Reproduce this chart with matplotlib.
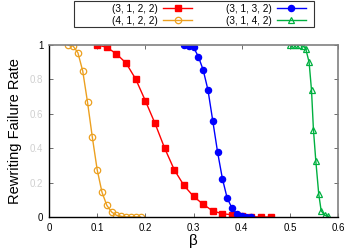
import matplotlib
matplotlib.use("Agg")
import matplotlib.pyplot as plt
from matplotlib.patches import Rectangle

plt.rcParams['font.family'] = ['Liberation Sans', 'DejaVu Sans']

# (3,1,2,2) red squares
x_r = [0.10, 0.12, 0.14, 0.16, 0.18, 0.20, 0.22, 0.24, 0.26, 0.28, 0.30, 0.32, 0.34, 0.36, 0.38, 0.40, 0.42, 0.44, 0.46]
y_r = [1.0, 0.987, 0.948, 0.895, 0.802, 0.676, 0.545, 0.401, 0.275, 0.184, 0.120, 0.074, 0.035, 0.019, 0.013, 0.006, 0.002, 0.0, 0.0]
# (4,1,2,2) orange circles
x_o = [0.04, 0.05, 0.06, 0.07, 0.08, 0.09, 0.10, 0.11, 0.12, 0.13, 0.14, 0.15, 0.16, 0.17, 0.18, 0.19]
y_o = [1.0, 0.994, 0.955, 0.849, 0.667, 0.463, 0.275, 0.144, 0.068, 0.029, 0.010, 0.004, 0.0, 0.0, 0.0, 0.0]
# (3,1,3,2) blue filled circles
x_b = [0.28, 0.29, 0.30, 0.31, 0.32, 0.33, 0.34, 0.35, 0.36, 0.37, 0.38, 0.39, 0.40, 0.41, 0.42]
y_b = [1.0, 0.994, 0.987, 0.933, 0.856, 0.739, 0.559, 0.377, 0.223, 0.109, 0.052, 0.019, 0.008, 0.002, 0.0]
# (3,1,4,2) green triangles
x_g = [0.50, 0.507, 0.513, 0.52, 0.527, 0.533, 0.54, 0.545, 0.549, 0.554, 0.56, 0.565, 0.572, 0.58]
y_g = [1.0, 1.0, 1.0, 1.0, 0.995, 0.978, 0.90, 0.737, 0.508, 0.324, 0.134, 0.037, 0.010, 0.004]

labels = ["(3, 1, 2, 2)", "(4, 1, 2, 2)", "(3, 1, 3, 2)", "(3, 1, 4, 2)"]
xticks = [0, 0.1, 0.2, 0.3, 0.4, 0.5, 0.6]
xticklabels = ["0", "0.1", "0.2", "0.3", "0.4", "0.5", "0.6"]
yticks = [0, 0.2, 0.4, 0.6, 0.8, 1.0]
yticklabels = ["0", "0.2", "0.4", "0.6", "0.8", "1"]

RED = "#ff0000"
ORANGE = "#eca020"
BLUE = "#0000ff"
GREEN = "#00b040"

W, H = 356, 249
fig = plt.figure(figsize=(W/100, H/100), dpi=100)
ax = fig.add_axes([49/W, 1 - 217/H, (338-49)/W, (217-45)/H])

lw = 1.0
h1, = ax.plot(x_r, y_r, color=RED, marker="s", ms=4.0, lw=lw, label=labels[0])
h2, = ax.plot(x_o, y_o, color=ORANGE, marker="o", mfc="none", ms=4.6, mew=0.9, lw=lw, label=labels[1])
h3, = ax.plot(x_b, y_b, color=BLUE, marker="o", ms=4.4, lw=lw, label=labels[2])
h4, = ax.plot(x_g, y_g, color=GREEN, marker="^", mfc="none", ms=4.6, mew=0.9, lw=lw, label=labels[3])

ax.set_xlim(0, 0.6)
ax.set_ylim(0, 1)
ax.set_xticks(xticks)
ax.set_xticklabels(xticklabels)
ax.set_yticks(yticks)
ax.set_yticklabels(yticklabels)
ax.tick_params(direction="in", top=True, right=True, length=3, width=0.6,
               color="#555555", labelsize=7, pad=4)
for i, t in enumerate(ax.get_yticklabels()):
    if 0 < i < len(yticks) - 1:
        t.set_color("#d0d0d0")
for s in ["top", "right"]:
    ax.spines[s].set_color("#808080")
    ax.spines[s].set_linewidth(1.2)
for s in ["left", "bottom"]:
    ax.spines[s].set_color("black")
    ax.spines[s].set_linewidth(1.0)

ax.set_xlabel("β", fontsize=11, labelpad=1)
ax.set_ylabel("Rewriting Failure Rate", fontsize=10.5, labelpad=6)

# legend box
fig.patches.append(Rectangle((74/W, 1 - 27/H), (314-74)/W, 26/H,
                             transform=fig.transFigure, fill=False,
                             edgecolor="#333333", lw=0.8))
leg = fig.legend([h1, h2, h3, h4], labels, ncol=2, loc="upper center",
                 bbox_to_anchor=(209/W, 1 - 1/H), fontsize=7.2,
                 markerfirst=False, frameon=False,
                 handlelength=2.9, columnspacing=3.4,
                 borderpad=0.25, labelspacing=0.2, handletextpad=0.5,
                 borderaxespad=0)

fig.savefig("out.png", dpi=100)
